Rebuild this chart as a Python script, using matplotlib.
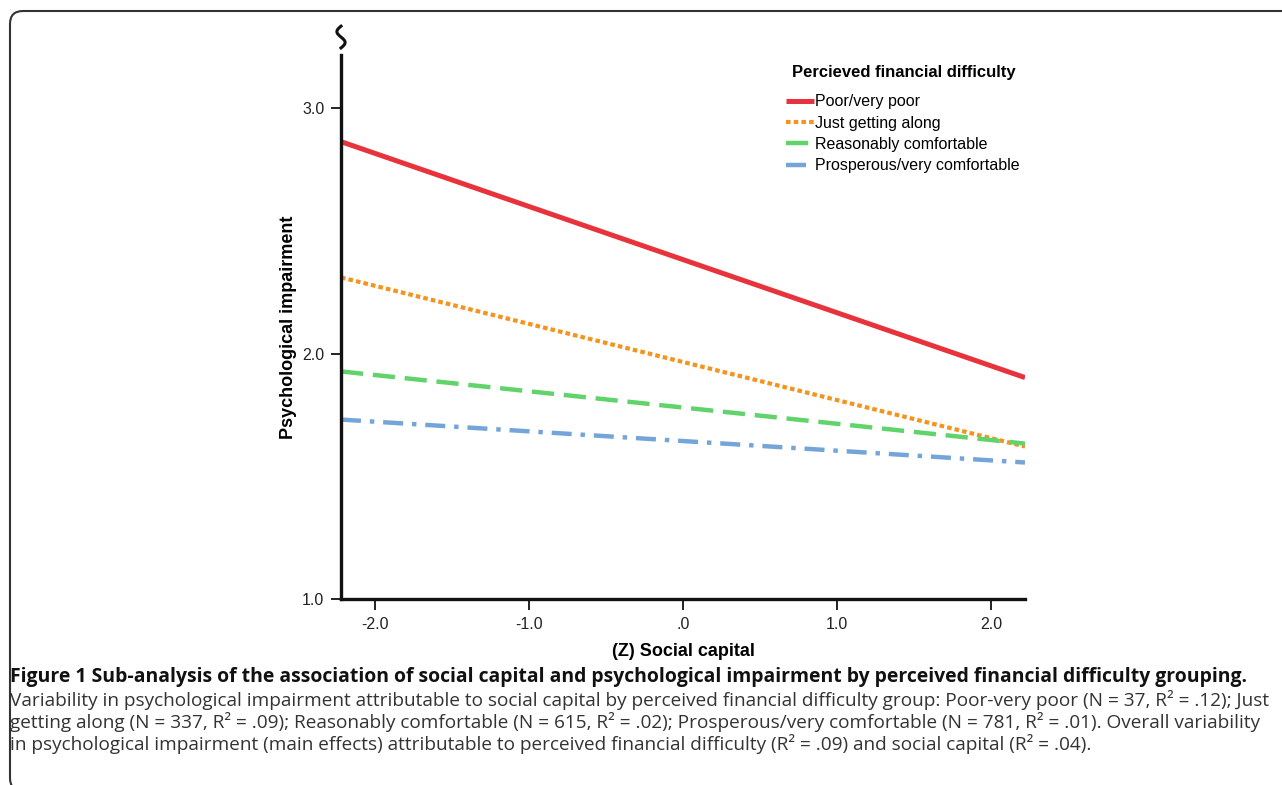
"""Simple slopes of psychological impairment on social capital, by financial-difficulty group."""

import matplotlib

matplotlib.use("Agg")
import matplotlib.pyplot as plt
import numpy as np
from matplotlib import font_manager
from matplotlib.patches import FancyBboxPatch

# --- data ------------------------------------------------------------------
x_range = [-2.22, 2.22]  # ends of each fitted line, (Z) social capital
groups = [
    "Poor/very poor",
    "Just getting along",
    "Reasonably comfortable",
    "Prosperous/very comfortable",
]
y_start = [2.863, 2.31, 1.927, 1.731]
y_end = [1.902, 1.621, 1.633, 1.556]

x_ticks = [-2.0, -1.0, 0.0, 1.0, 2.0]
x_tick_labels = ["-2.0", "-1.0", ".0", "1.0", "2.0"]
y_ticks = [1.0, 2.0, 3.0]
y_tick_labels = ["1.0", "2.0", "3.0"]

caption_title = (
    "Figure 1 Sub-analysis of the association of social capital and "
    "psychological impairment by perceived financial difficulty grouping."
)
caption_lines = [
    "Variability in psychological impairment attributable to social capital by perceived "
    "financial difficulty group: Poor-very poor (N = 37, R² = .12); Just",
    "getting along (N = 337, R² = .09); Reasonably comfortable (N = 615, R² = .02); "
    "Prosperous/very comfortable (N = 781, R² = .01). Overall variability",
    "in psychological impairment (main effects) attributable to perceived financial "
    "difficulty (R² = .09) and social capital (R² = .04).",
]

# --- styles ----------------------------------------------------------------
colors = ["#e8333c", "#f5931f", "#60d36b", "#74a5d9"]
styles = [
    dict(linestyle="-", linewidth=3.6),
    dict(linestyle=(0, (1.1, 0.75)), linewidth=3.0),
    dict(linestyle=(0, (5.0, 2.2)), linewidth=3.2),
    dict(linestyle=(0, (4.5, 2.0, 1.0, 2.0)), linewidth=3.2),
]

W, H, DPI = 1282, 785, 100


def _pick_family(candidates):
    names = {f.name for f in font_manager.fontManager.ttflist}
    for c in candidates:
        if c in names:
            return c
    return "DejaVu Sans"


SANS = _pick_family(["Liberation Sans", "Arial", "DejaVu Sans"])
CAPTION = _pick_family(["Open Sans", "Liberation Sans"])


def _caption_text(fig, x_px, y_px, s, weight, color):
    return fig.text(x_px / W, 1 - y_px / H, s, fontsize=10, family=CAPTION,
                    fontweight=weight, color=color, ha="left", va="center")


def _fit(texts, renderer, target_w):
    """Scale a group of texts to one size, so the widest hits target_w pixels."""
    w = max(t.get_window_extent(renderer).width for t in texts)
    for t in texts:
        t.set_fontsize(10 * target_w / w)


def main():
    plt.rcParams["font.family"] = [SANS, "DejaVu Sans"]
    fig = plt.figure(figsize=(W / DPI, H / DPI), dpi=DPI)
    ax = fig.add_axes([341 / W, 1 - 599 / H, (1025 - 341) / W, (599 - 55) / H])

    for name, y0, y1, c, st in zip(groups, y_start, y_end, colors, styles):
        ax.plot(x_range, [y0, y1], color=c, label=name, solid_capstyle="butt",
                dash_capstyle="butt", **st)

    ax.set_xlim(x_range)
    ax.set_ylim(1.0, 3.216)
    ax.set_xticks(x_ticks, x_tick_labels)
    ax.set_yticks(y_ticks, y_tick_labels)
    ax.tick_params(axis="both", direction="out", length=7, width=1.4,
                   labelsize=11.5, colors="#222222", pad=5)
    ax.tick_params(axis="x", length=8, pad=5)
    for side in ("top", "right"):
        ax.spines[side].set_visible(False)
    for side in ("left", "bottom"):
        ax.spines[side].set_linewidth(2.4)
        ax.spines[side].set_color("#111111")

    ax.set_xlabel("(Z) Social capital", fontsize=13, fontweight="bold", labelpad=8)
    ax.set_ylabel("Psychological impairment", fontsize=13, fontweight="bold", labelpad=4)

    # axis-break squiggle above the y axis
    t = np.linspace(0, 2 * np.pi, 60)
    ax.plot(-0.006 * np.sin(t), 1.013 + 0.04 * (1 - t / (2 * np.pi)),
            transform=ax.transAxes, color="#111111", lw=2.2, clip_on=False)

    leg = ax.legend(loc="upper left", bbox_to_anchor=(772 / W, 1 - 51 / H),
                    bbox_transform=fig.transFigure, frameon=False, fontsize=11.5,
                    handlelength=1.7, handletextpad=0.1, labelspacing=0.4,
                    title="Percieved financial difficulty", alignment="left",
                    title_fontproperties={"weight": "bold", "size": 12,
                                          "family": SANS})
    leg._legend_box.sep = 10
    leg.get_title().set_position((6, 0))

    # caption block
    fig.canvas.draw()
    r = fig.canvas.get_renderer()
    head = _caption_text(fig, 10, 677, caption_title, "bold", "#111111")
    _fit([head], r, 1236)
    body = [_caption_text(fig, 10, 700 + 22 * i, line, "normal", "#333333")
            for i, line in enumerate(caption_lines)]
    _fit(body, r, 1262)

    # rounded frame around the figure panel
    frame = FancyBboxPatch((10 / DPI, -0.06), (W + 40) / DPI, (H - 11) / DPI + 0.06,
                           boxstyle="round,pad=0,rounding_size=0.13",
                           transform=fig.dpi_scale_trans, fill=False,
                           edgecolor="#333333", linewidth=1.5, clip_on=False)
    fig.patches.append(frame)

    fig.savefig("out.png", dpi=DPI)
    plt.close(fig)


if __name__ == "__main__":
    main()
